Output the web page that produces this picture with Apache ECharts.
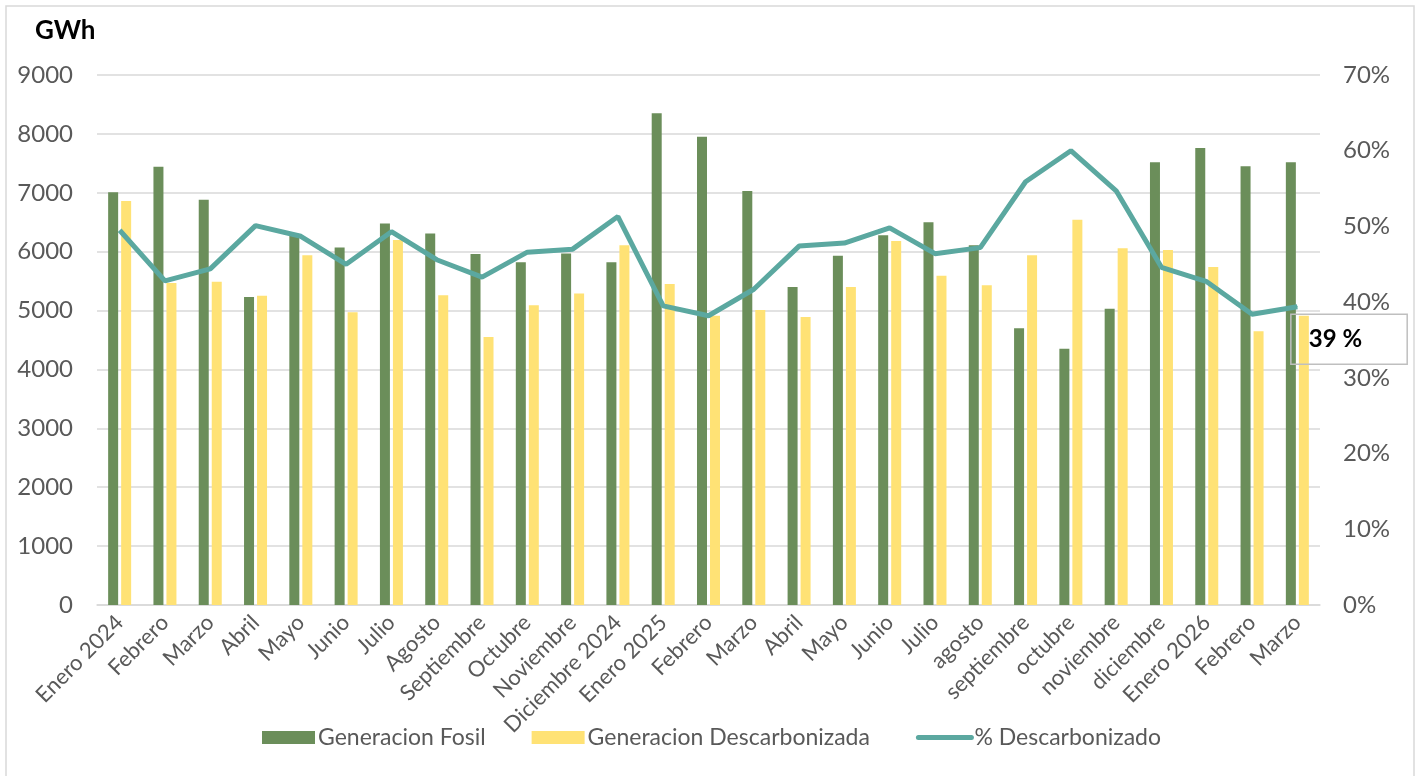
<!DOCTYPE html>
<html>
<head>
<meta charset="utf-8">
<script src="https://cdn.jsdelivr.net/npm/echarts@6/dist/echarts.min.js"></script>
<style>
html,body{margin:0;padding:0;background:#fff;}
#chart{width:1420px;height:776px;}
</style>
</head>
<body>
<div id="chart"></div>
<script>
const categories = ['Enero 2024','Febrero','Marzo','Abril','Mayo','Junio','Julio','Agosto','Septiembre','Octubre','Noviembre','Diciembre 2024','Enero 2025','Febrero','Marzo','Abril','Mayo','Junio','Julio','agosto','septiembre','octubre','noviembre','diciembre','Enero 2026','Febrero','Marzo'];
const fosil = [7010,7440,6880,5230,6280,6070,6480,6310,5960,5820,5970,5820,8350,7950,7030,5400,5930,6280,6500,6110,4700,4350,5030,7520,7760,7450,7520];
const descarbonizada = [6860,5470,5490,5250,5940,4970,6200,5260,4550,5090,5290,6110,5450,4910,5010,4890,5400,6180,5590,5430,5940,6540,6060,6030,5740,4650,4910];
const pctDescarbonizado = [0.495,0.428,0.444,0.501,0.487,0.450,0.493,0.456,0.433,0.466,0.470,0.513,0.395,0.382,0.417,0.474,0.478,0.498,0.464,0.472,0.559,0.600,0.547,0.446,0.427,0.384,0.394];
const leftTicks = {min:0, max:9000, interval:1000};
const rightTicks = {min:0, max:0.7, interval:0.1};

const FONT = 'Lato, "Noto Sans", sans-serif';
const chart = echarts.init(document.getElementById('chart'));
const lineData = pctDescarbonizado.map((v, i) => {
  if (i === pctDescarbonizado.length - 1) {
    return {
      value: v,
      symbol: 'circle',
      symbolSize: 1,
      label: {
        show: true,
        position: [-6, 8],
        formatter: p => Math.round(p.value * 100) + ' %',
        fontFamily: FONT,
        fontWeight: 'bold',
        fontSize: 24,
        color: '#000',
        borderColor: '#BFBFBF',
        borderWidth: 1.5,
        padding: [13, 45, 13, 18]
      }
    };
  }
  return v;
});

chart.setOption({
  animation: false,
  backgroundColor: '#fff',
  graphic: [
    {type:'rect', shape:{x:6, y:6, width:1408, height:800}, style:{fill:'none', stroke:'#D9D9D9', lineWidth:1.5}, silent:true},
    {type:'text', left:35, top:18, style:{text:'GWh', fontFamily:FONT, fontWeight:'bold', fontSize:26, fill:'#000'}}
  ],
  grid: {left:97, right:100, top:75, bottom:171, containLabel:false},
  legend: {
    left: 257, bottom: 22,
    itemWidth: 53, itemHeight: 13, itemGap: 46,
    textStyle: {fontFamily:FONT, fontSize:23, color:'#595959', padding:[0,0,0,-2]},
    lineStyle: {width:5, cap:'round'},
    data: [
      {name:'Generacion Fosil', icon:'rect'},
      {name:'Generacion Descarbonizada', icon:'rect'},
      {name:'% Descarbonizado', itemStyle:{opacity:0, color:'rgba(0,0,0,0)', borderWidth:0}}
    ]
  },
  xAxis: {
    type: 'category',
    data: categories,
    axisLine: {lineStyle:{color:'#D9D9D9', width:1.5}},
    axisTick: {show:false},
    axisLabel: {rotate:45, interval:0, margin:14, fontFamily:FONT, fontSize:22, color:'#595959'}
  },
  yAxis: [
    {
      type: 'value', min:leftTicks.min, max:leftTicks.max, interval:leftTicks.interval,
      axisLine:{show:false}, axisTick:{show:false},
      splitLine:{lineStyle:{color:'#D9D9D9', width:1.5}},
      axisLabel:{margin:24, fontFamily:FONT, fontSize:24, color:'#595959', formatter: v => String(v)}
    },
    {
      type: 'value', min:rightTicks.min, max:rightTicks.max, interval:rightTicks.interval,
      axisLine:{show:false}, axisTick:{show:false},
      splitLine:{show:false},
      axisLabel:{margin:23, fontFamily:FONT, fontSize:24, color:'#595959', formatter: v => Math.round(v*100) + '%'}
    }
  ],
  series: [
    {name:'Generacion Fosil', type:'bar', data:fosil, barWidth:10, barGap:'30%', itemStyle:{color:'#6B8E5A'}},
    {name:'Generacion Descarbonizada', type:'bar', data:descarbonizada, barWidth:10, barGap:'30%', itemStyle:{color:'#FFE275'}},
    {name:'% Descarbonizado', type:'line', yAxisIndex:1, data:lineData, symbol:'none', showSymbol:true,
     itemStyle:{color:'#5BA8A0', borderWidth:0}, lineStyle:{color:'#5BA8A0', width:5}, z:5}
  ]
});
</script>
</body>
</html>
